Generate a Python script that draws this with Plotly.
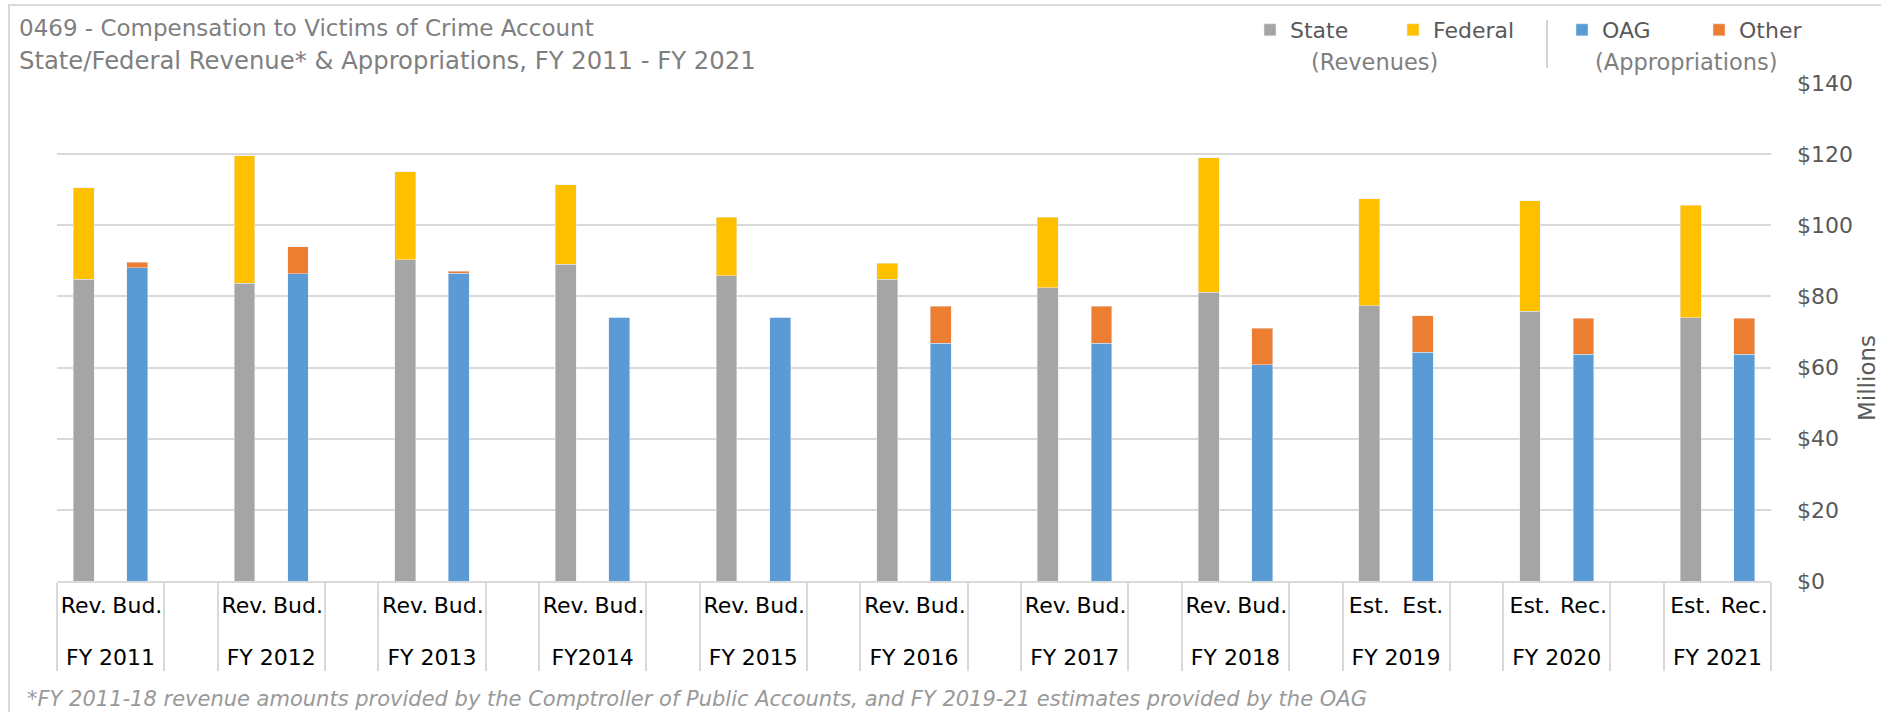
import plotly.graph_objects as go

# ---- data (millions of dollars) ----
fiscal_years = ["FY 2011", "FY 2012", "FY 2013", "FY2014", "FY 2015", "FY 2016",
                "FY 2017", "FY 2018", "FY 2019", "FY 2020", "FY 2021"]
rev_labels = ["Rev."] * 8 + ["Est."] * 3
app_labels = ["Bud."] * 8 + ["Est.", "Rec.", "Rec."]

state = [84.9, 83.7, 90.3, 89.1, 85.8, 84.9, 82.4, 81.2, 77.4, 75.8, 74.0]
federal = [25.7, 35.8, 24.8, 22.3, 16.4, 4.4, 19.9, 37.8, 30.1, 31.1, 31.6]
oag = [88.0, 86.4, 86.5, 74.1, 74.1, 66.9, 66.9, 60.8, 64.3, 63.7, 63.7]
other = [1.6, 7.6, 0.6, 0.0, 0.0, 10.3, 10.3, 10.3, 10.3, 10.2, 10.2]

y_ticks = [0, 20, 40, 60, 80, 100, 120, 140]
y_tick_text = ["$0", "$20", "$40", "$60", "$80", "$100", "$120", "$140"]

title_text = "0469 - Compensation to Victims of Crime Account"
subtitle_text = "State/Federal Revenue* & Appropriations, FY 2011 - FY 2021"
footnote = ("*FY 2011-18 revenue amounts provided by the Comptroller of Public Accounts, "
            "and FY 2019-21 estimates provided by the OAG")

# ---- build multicategory x (Rev, Bud, blank spacer per year) ----
ZW = "\u200b"
outer, inner = [], []
s_y, f_y, o_y, t_y = [], [], [], []
n = len(fiscal_years)
for i, fy in enumerate(fiscal_years):
    # leading invisible line pushes the year row down, as in the reference
    grp = ZW + "<br>" + fy
    outer += [grp, grp]
    # appropriation label gets an invisible suffix so equal labels stay distinct
    inner += [rev_labels[i], app_labels[i] + ZW]
    s_y += [state[i], None]
    f_y += [federal[i], None]
    o_y += [None, oag[i]]
    t_y += [None, other[i]]
    if i < n - 1:
        outer.append(ZW * (i + 1))
        inner.append(ZW)
        s_y.append(None); f_y.append(None); o_y.append(None); t_y.append(None)

x = [outer, inner]

W, H = 1881, 712
L, R, T, B = 57, 110, 83, 131
PW, PH = W - L - R, H - T - B


def px_x(px):
    return (px - L) / PW


def px_y(py):
    return (H - B - py) / PH


FONT = "DejaVu Sans"
bw = 0.39

fig = go.Figure()
fig.add_trace(go.Bar(x=x, y=s_y, name="State", marker_color="#a5a5a5", width=bw, legend="legend"))
fig.add_trace(go.Bar(x=x, y=f_y, name="Federal", marker_color="#ffc000", width=bw, legend="legend2"))
fig.add_trace(go.Bar(x=x, y=o_y, name="OAG", marker_color="#5b9bd5", width=bw, legend="legend3"))
fig.add_trace(go.Bar(x=x, y=t_y, name="Other", marker_color="#ed7d31", width=bw, legend="legend4"))

legend_font = dict(family=FONT, size=22, color="#595959")


def leg(px):
    return dict(orientation="h", x=px_x(px - 20), xanchor="left", y=px_y(30), yanchor="middle",
                font=legend_font, bgcolor="rgba(0,0,0,0)")


fig.update_layout(
    width=W, height=H,
    margin=dict(l=L, r=R, t=T, b=B, autoexpand=False),
    barmode="stack",
    paper_bgcolor="white", plot_bgcolor="white",
    font=dict(family=FONT, size=22, color="#595959"),
    legend=leg(1270), legend2=leg(1413), legend3=leg(1582), legend4=leg(1719),
    showlegend=True,
)

fig.update_xaxes(
    type="multicategory",
    showgrid=False,
    showline=True, linecolor="#d9d9d9", linewidth=2,
    showdividers=True, dividercolor="#d9d9d9", dividerwidth=2,
    tickfont=dict(family=FONT, size=22, color="#000000"),
    tickangle=0,
    ticks="outside", ticklen=9, tickcolor="rgba(0,0,0,0)",
    ticklabelstandoff=4,
)
fig.update_yaxes(
    side="right",
    range=[0, 140],
    tickvals=y_ticks,
    ticktext=y_tick_text,
    showgrid=True, gridcolor="#d9d9d9", gridwidth=2,
    zeroline=False,
    showline=False,
    ticks="",
    ticklabelstandoff=25,
    tickfont=dict(family=FONT, size=22, color="#595959"),
)

fig.add_annotation(text="Millions", x=px_x(1867), y=px_y(378), xref="paper", yref="paper",
                   showarrow=False, xanchor="center", yanchor="middle", textangle=-90,
                   font=dict(family=FONT, size=23, color="#595959"))
fig.add_annotation(text=title_text, x=px_x(17), y=px_y(28), xref="paper", yref="paper",
                   showarrow=False, xanchor="left", yanchor="middle",
                   font=dict(family=FONT, size=23, color="#7f7f7f"))
fig.add_annotation(text=subtitle_text, x=px_x(17), y=px_y(60), xref="paper", yref="paper",
                   showarrow=False, xanchor="left", yanchor="middle",
                   font=dict(family=FONT, size=24.3, color="#7f7f7f"))
fig.add_annotation(text="(Revenues)", x=px_x(1374), y=px_y(62), xref="paper", yref="paper",
                   showarrow=False, xanchor="center", yanchor="middle",
                   font=dict(family=FONT, size=22.5, color="#7f7f7f"))
fig.add_annotation(text="(Appropriations)", x=px_x(1686), y=px_y(62), xref="paper", yref="paper",
                   showarrow=False, xanchor="center", yanchor="middle",
                   font=dict(family=FONT, size=22.5, color="#7f7f7f"))
fig.add_annotation(text=footnote, x=px_x(25), y=px_y(699), xref="paper", yref="paper",
                   showarrow=False, xanchor="left", yanchor="middle",
                   font=dict(family=FONT, size=21, color="#999999", style="italic"))

# legend separator and chart border
fig.add_shape(type="line", xref="paper", yref="paper",
              x0=px_x(1547), x1=px_x(1547), y0=px_y(20), y1=px_y(68),
              line=dict(color="#a6a6a6", width=1))
fig.add_shape(type="rect", xref="paper", yref="paper",
              x0=px_x(9), x1=px_x(W + 20), y0=px_y(H + 20), y1=px_y(5),
              line=dict(color="#d9d9d9", width=2), layer="below")

fig.write_html("out.html", config={"displayModeBar": False},
               post_script="document.body.style.margin='0px';")
